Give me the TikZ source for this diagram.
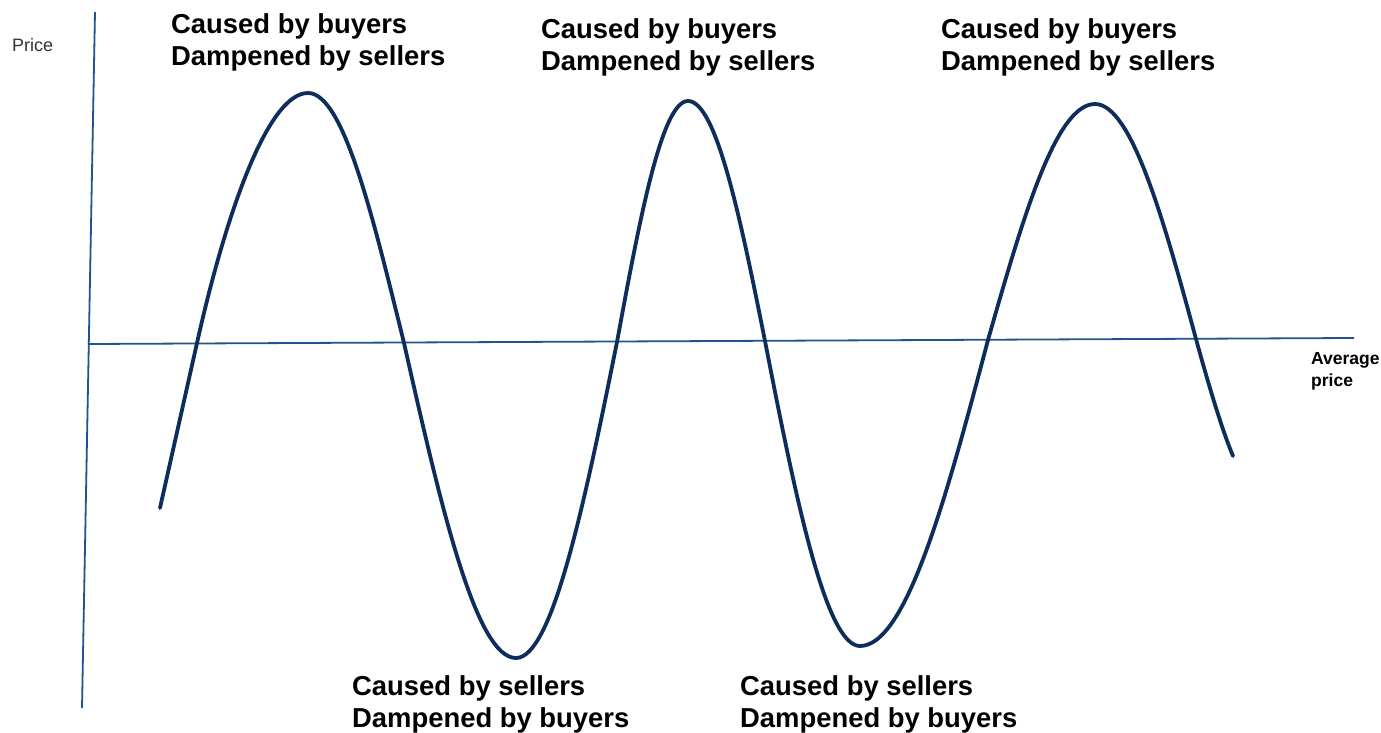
\documentclass[tikz,border=0pt]{standalone}
\usepackage{fontspec}
\setmainfont{Liberation Sans}
\definecolor{axisblue}{HTML}{22528F}
\definecolor{wavenavy}{HTML}{0F2D5A}

\begin{document}
\begin{tikzpicture}[x=1pt,y=-1pt,
  axis/.style={draw=axisblue, line width=1.8pt},
  wave/.style={draw=wavenavy, line width=3.8pt, line cap=round, line join=round},
  note/.style={anchor=north west, inner sep=0pt, align=left,
    font=\bfseries\fontsize{27.4}{32.5}\selectfont},
  axislabel/.style={anchor=north west, inner sep=0pt, align=left}]
  \useasboundingbox (0,0) rectangle (1381,733);

  % axes
  \coordinate (ytop) at (95,12);
  \coordinate (ybot) at (82,708);
  \coordinate (xleft) at (88,344);
  \coordinate (xright) at (1354,338);
  \path[axis] (ytop) -- (ybot);
  \path[axis] (xleft) -- (xright);

  \node[axislabel, text=black!80, font=\fontsize{18}{21}\selectfont] (price) at (12,38) {Price};
  \node[axislabel, font=\bfseries\fontsize{17.5}{22}\selectfont] (avg) at (1311,352) {Average\\price};

  % the price wave
  \path[wave] (160,508) -- (197,343)
    .. controls (226,213) and (268,93) .. (308,93)
    .. controls (343,93) and (372,213) .. (404,343)
    .. controls (441,507) and (476,658) .. (516,658)
    .. controls (552,658) and (584,506) .. (617,342)
    .. controls (640,217) and (662,101) .. (688,101)
    .. controls (716,101) and (740,216) .. (765,341)
    .. controls (796,500) and (826,646) .. (860,646)
    .. controls (906,646) and (946,499) .. (988,340)
    .. controls (1023,217) and (1056,104) .. (1095,104)
    .. controls (1131,104) and (1163,217) .. (1196,339)
    .. controls (1208,383) and (1222,430) .. (1233,456);

  \node[note] (buy1) at (171,13) {Caused by buyers\\Dampened by sellers};
  \node[note] (buy2) at (541,18) {Caused by buyers\\Dampened by sellers};
  \node[note] (buy3) at (941,18) {Caused by buyers\\Dampened by sellers};
  \node[note] (sell1) at (352,675) {Caused by sellers\\Dampened by buyers};
  \node[note] (sell2) at (740,675) {Caused by sellers\\Dampened by buyers};
\end{tikzpicture}
\end{document}
